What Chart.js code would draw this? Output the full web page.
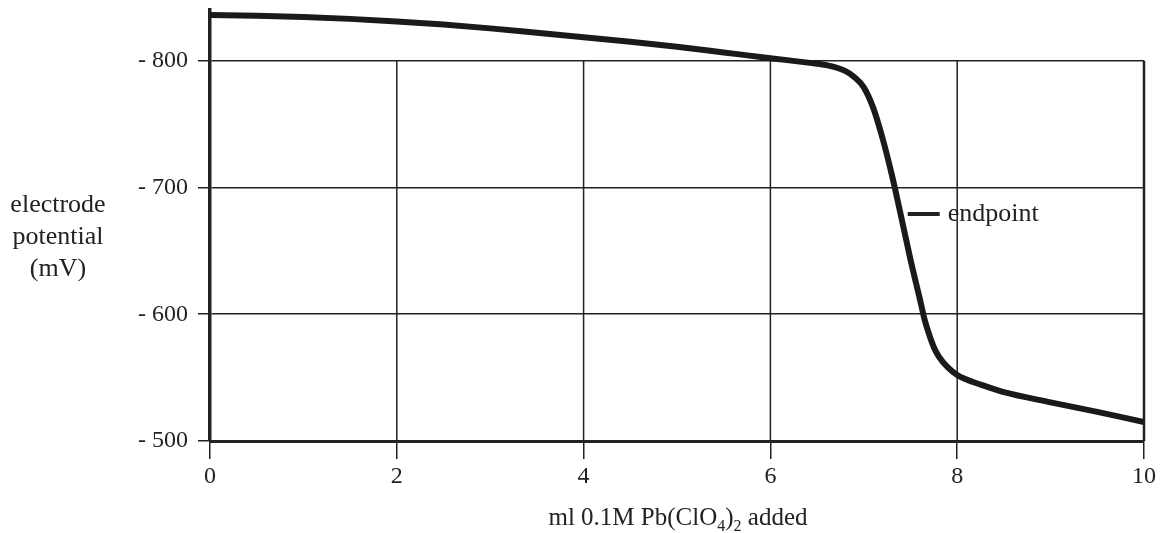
<!DOCTYPE html>
<html>
<head>
<meta charset="utf-8">
<script src="https://cdn.jsdelivr.net/npm/chart.js@4/dist/chart.umd.min.js"></script>
<style>
  body { margin: 0; background: #fff; }
  canvas { display: block; }
</style>
</head>
<body>
<canvas id="titration-chart" width="1162" height="533"></canvas>
<script>
// volume of 0.1M Pb(ClO4)2 added (ml) and electrode potential (mV)
const volumes = [0, 0.5, 1, 1.5, 2, 2.5, 3, 3.5, 4, 4.5, 5, 5.5, 6, 6.4, 6.6, 6.8, 6.9, 7.0,
                 7.1, 7.2, 7.3, 7.4, 7.5, 7.6, 7.65, 7.7, 7.75, 7.8, 7.9, 8.0, 8.1, 8.25,
                 8.5, 9.0, 9.5, 10];
const potentials = [-836, -835.5, -834.5, -833, -831, -828.5, -825.5, -822, -818.5, -815, -811,
                    -806.5, -802, -798.5, -796.5, -792, -787, -779, -763, -739, -710, -677,
                    -643, -612, -596, -584, -574, -567, -558, -552, -548.5, -544.5, -538.5,
                    -530.5, -523, -515];
const xTicks = [0, 2, 4, 6, 8, 10];
const yTicks = [-800, -700, -600, -500];
const endpointAt = { x: 7.47, y: -679 };

const ink = '#222';
const serif = '"Liberation Serif", "Times New Roman", serif';

// vertical grid lines only span the boxed region (-800 .. -500), plus labels
const decorations = {
    id: 'decorations',
    beforeDatasetsDraw(chart) {
        const { ctx, scales: { x, y } } = chart;
        ctx.save();
        ctx.strokeStyle = ink;
        xTicks.forEach(v => {
            if (v === 0) return;
            ctx.lineWidth = v === 10 ? 2.5 : 1.5;
            const px = x.getPixelForValue(v);
            ctx.beginPath();
            ctx.moveTo(px, y.getPixelForValue(-800));
            ctx.lineTo(px, y.getPixelForValue(-500));
            ctx.stroke();
        });
        ctx.restore();
    },
    afterDraw(chart) {
        const { ctx, scales: { x, y } } = chart;
        ctx.save();
        ctx.fillStyle = ink;
        ctx.strokeStyle = ink;
        ctx.font = '26px ' + serif;
        ctx.textAlign = 'center';
        ctx.textBaseline = 'middle';
        ['electrode', 'potential', '(mV)'].forEach((t, i) => ctx.fillText(t, 58, 205 + i * 32));

        // x axis title with subscripts
        const parts = [['ml 0.1M Pb(ClO', false], ['4', true], [')', false], ['2', true], [' added', false]];
        const big = '25px ' + serif, small = '16px ' + serif;
        let w = 0;
        parts.forEach(([t, sub]) => { ctx.font = sub ? small : big; w += ctx.measureText(t).width; });
        let cx = 678 - w / 2;
        ctx.textAlign = 'left';
        ctx.textBaseline = 'alphabetic';
        parts.forEach(([t, sub]) => {
            ctx.font = sub ? small : big;
            ctx.fillText(t, cx, sub ? 531 : 525);
            cx += ctx.measureText(t).width;
        });

        // endpoint marker
        const ex = x.getPixelForValue(endpointAt.x);
        const ey = y.getPixelForValue(endpointAt.y);
        ctx.lineWidth = 4;
        ctx.beginPath();
        ctx.moveTo(ex, ey);
        ctx.lineTo(ex + 32, ey);
        ctx.stroke();
        ctx.font = '26px ' + serif;
        ctx.textBaseline = 'middle';
        ctx.fillText('endpoint', ex + 40, ey);
        ctx.restore();
    }
};

document.addEventListener('DOMContentLoaded', () => {
    const canvas = document.getElementById('titration-chart');
    new Chart(canvas.getContext('2d'), {
        type: 'line',
        data: {
            datasets: [{
                data: volumes.map((v, i) => ({ x: v, y: potentials[i] })),
                borderColor: '#1a1a1a',
                borderWidth: 6,
                pointRadius: 0,
                cubicInterpolationMode: 'monotone',
                fill: false
            }]
        },
        options: {
            responsive: false,
            animation: false,
            layout: { padding: { top: 10, right: 18, left: 0, bottom: 0 } },
            plugins: { legend: { display: false }, tooltip: { enabled: false } },
            scales: {
                x: {
                    type: 'linear',
                    min: 0,
                    max: 10,
                    afterBuildTicks: axis => { axis.ticks = xTicks.map(v => ({ value: v })); },
                    afterFit: axis => { axis.height = 92; },
                    grid: { drawOnChartArea: false, drawTicks: true, tickLength: 18, color: ink, lineWidth: 1.5 },
                    border: { display: true, color: ink, width: 3 },
                    ticks: { color: ink, font: { family: serif, size: 24 }, padding: 3, maxRotation: 0 }
                },
                y: {
                    type: 'linear',
                    min: -840,
                    max: -500,
                    reverse: true,
                    afterBuildTicks: axis => { axis.ticks = yTicks.map(v => ({ value: v })); },
                    afterFit: axis => {
                        axis.width = 210;
                        axis.paddingTop = 0;
                        axis.paddingBottom = 0;
                    },
                    grid: { drawOnChartArea: true, tickLength: 12, color: ink, lineWidth: 1.5 },
                    border: { display: true, color: ink, width: 3.5 },
                    ticks: {
                        color: ink,
                        font: { family: serif, size: 24 },
                        padding: 10,
                        callback: v => '- ' + Math.abs(v)
                    }
                }
            }
        },
        plugins: [decorations]
    });
});
</script>
</body>
</html>
